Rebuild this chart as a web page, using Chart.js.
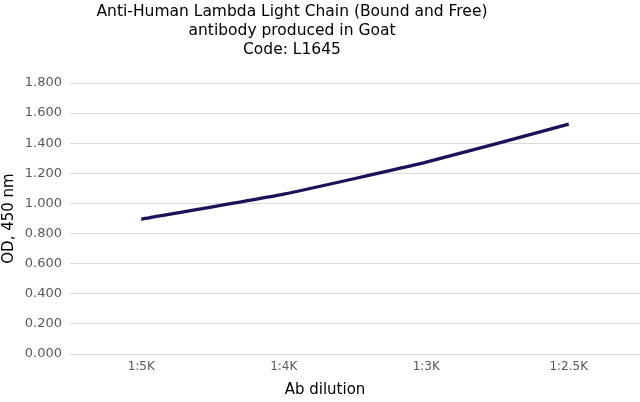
<!DOCTYPE html>
<html>
<head>
<meta charset="utf-8">
<script src="https://cdn.jsdelivr.net/npm/chart.js@4/dist/chart.umd.min.js"></script>
<style>
  html, body { margin: 0; padding: 0; background: #fff; }
  #wrap { width: 640px; height: 402px; }
</style>
</head>
<body>
<div id="wrap"><canvas id="chart"></canvas></div>
<script>
// chart data
var dilutions = ['1:5K', '1:4K', '1:3K', '1:2.5K'];
var odValues = [0.895, 1.062, 1.274, 1.527];
var titleLines = ['Anti-Human Lambda Light Chain (Bound and Free)', 'antibody produced in Goat', 'Code: L1645'];
var xTitle = 'Ab dilution';
var yTitle = 'OD, 450 nm';

var font = 'DejaVu Sans, Verdana, sans-serif';

// draws the chart title and x axis title where the original has them
var textPlugin = {
    id: 'textPlugin',
    afterDraw: function(chart){
        var ctx = chart.ctx;
        ctx.save();
        ctx.fillStyle = '#000';
        ctx.textAlign = 'center';
        ctx.textBaseline = 'middle';
        ctx.font = '15.5px ' + font;
        for(var i = 0; i < titleLines.length; i++){
            ctx.fillText(titleLines[i], 292, 12 + i * 19);
        }
        ctx.font = '15px ' + font;
        ctx.fillText(xTitle, 325, 390);
        ctx.restore();
    }
};

var ctx = document.getElementById('chart').getContext('2d');
var chart = new Chart(ctx, {
    type: 'line',
    data: {
        labels: dilutions,
        datasets: [{
            data: odValues,
            borderColor: '#1c1259',
            borderWidth: 3.3,
            pointRadius: 0,
            tension: 0.15,
            fill: false
        }]
    },
    options: {
        responsive: true,
        maintainAspectRatio: false,
        animation: false,
        layout: { padding: { top: 83, right: 0, left: 0, bottom: 0 } },
        plugins: {
            legend: { display: false },
            tooltip: { enabled: false },
            title: { display: false }
        },
        scales: {
            x: {
                offset: true,
                grid: { display: false, drawTicks: false },
                border: { display: false },
                ticks: { color: '#595959', font: { family: font, size: 12 }, padding: 6 },
                afterFit: function(scale){ scale.height = 48; }
            },
            y: {
                min: 0,
                max: 1.8,
                grid: { color: '#d9d9d9', lineWidth: 1, drawTicks: false },
                border: { display: false },
                ticks: {
                    stepSize: 0.2,
                    color: '#595959',
                    font: { family: font, size: 13 },
                    padding: 8,
                    callback: function(v){ return v.toFixed(3); }
                },
                title: {
                    display: true,
                    text: yTitle,
                    color: '#000',
                    font: { family: font, size: 15 },
                    padding: 0
                },
                afterFit: function(scale){ scale.width = 70; }
            }
        }
    },
    plugins: [textPlugin]
});
</script>
</body>
</html>
